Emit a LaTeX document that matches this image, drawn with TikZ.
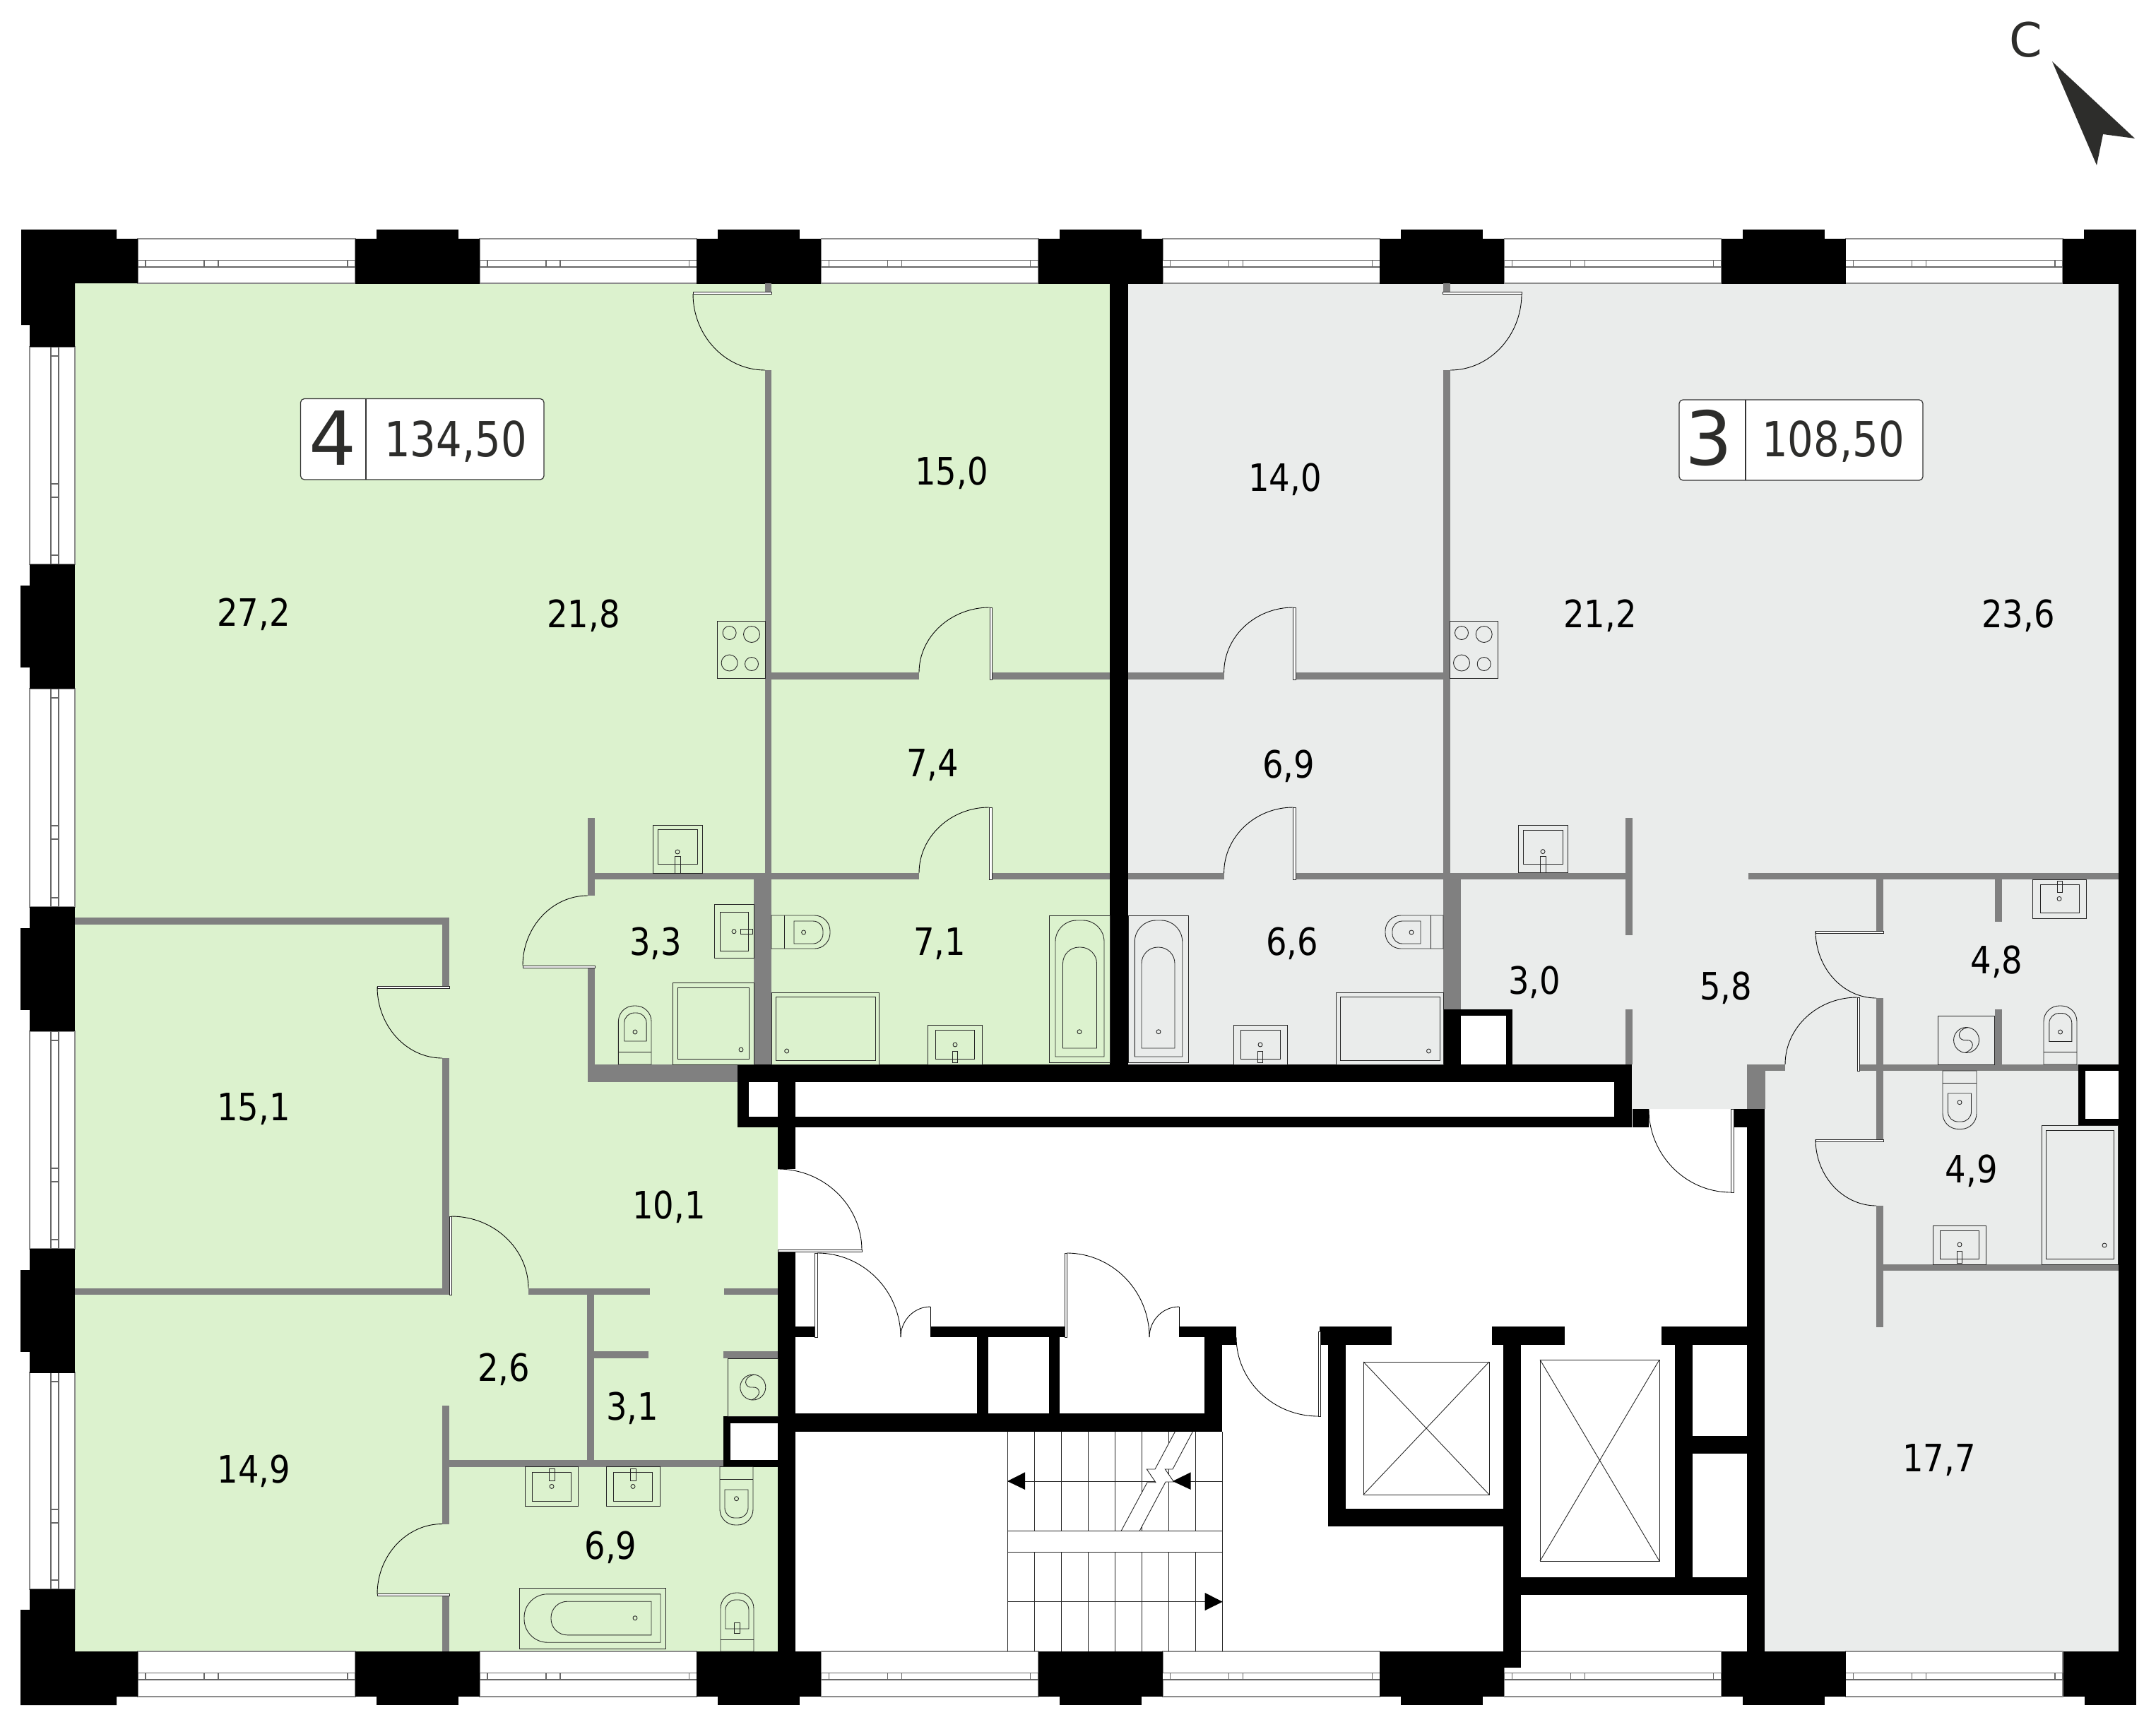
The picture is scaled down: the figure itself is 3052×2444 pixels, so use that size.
\documentclass[tikz,border=0pt]{standalone}
\usepackage{fontspec}
\setmainfont{DejaVu Sans}
\newfontfamily\planfont[FakeStretch=0.87]{DejaVu Sans}
\newfontfamily\badgefont[FakeStretch=0.84]{DejaVu Sans}
\definecolor{aptgreen}{HTML}{DCF2CE}
\definecolor{aptgray}{HTML}{EAECEB}
\definecolor{wallgray}{HTML}{808080}
\definecolor{inkdark}{HTML}{2D2D2B}
\tikzset{
  gw/.style={fill=wallgray},
  bw/.style={fill=black},
  fix/.style={draw=black!85,line width=0.5pt},
  thin line/.style={draw=black,line width=0.5pt},
  leaf/.style={draw=black!85,line width=0.5pt,fill=white},
  win/.style={draw=black!45,line width=0.8pt,fill=white},
  rail/.style={draw=black!60,line width=0.7pt,fill=white},
  lbl/.style={anchor=base,inner sep=0pt,font=\planfont\fontsize{30.4}{30.4}\selectfont,text=black},
  bignum/.style={anchor=base,inner sep=0pt,font=\fontsize{60}{60}\selectfont,text=inkdark},
  bigarea/.style={anchor=base,inner sep=0pt,font=\badgefont\fontsize{39}{39}\selectfont,text=inkdark},
}
% rectangles
\newcommand\gwr[4]{\fill[gw] (#1,#2) rectangle (#3,#4);}
\newcommand\bwr[4]{\fill[bw] (#1,#2) rectangle (#3,#4);}
\newcommand\fxr[4]{\draw[fix] (#1,#2) rectangle (#3,#4);}
\newcommand\fxd[3][3]{\draw[fix] (#2,#3) circle[radius=#1];}
% arch: centre of the base, half width, length, corner radius, rotation
\newcommand\arch[6]{\draw[fix,shift={(#1,#2)},rotate=#6] (-#3,0) -- (-#3,#4-#5) .. controls (-#3,#4-0.45*#5) and (-#3+0.45*#5,#4) .. (-#3+#5,#4) -- (#3-#5,#4) .. controls (#3-0.45*#5,#4) and (#3,#4-0.45*#5) .. (#3,#4-#5) -- (#3,0) -- cycle;}
% door swing: A has a vertical tangent, B a horizontal tangent
\newcommand\swing[4]{\draw[thin line] (#1,#2) .. controls (#1,#2*0.45+#4*0.55) and (#1*0.55+#3*0.45,#4) .. (#3,#4);}
\newcommand\leafr[4]{\draw[leaf] (#1,#2) rectangle (#3,#4);}
% horizontal and vertical window
\newcommand\hwin[4]{%
  \draw[win] (#1,#3) rectangle (#2,#4);
  \pgfmathsetmacro\ra{#3+30.5}\pgfmathsetmacro\rb{#3+40}
  \draw[rail] (#1,\ra) rectangle (#2,\rb);
  \draw[rail] (#1,\ra) rectangle (#1+11,\rb);
  \draw[rail] (#2-11,\ra) rectangle (#2,\rb);
  \draw[rail] (#1+94,\ra) rectangle (#1+114,\rb);}
\newcommand\vwin[2]{%
  \draw[win] (42,#1) rectangle (106,#2);
  \draw[rail] (72,#1) rectangle (83,#2);
  \draw[rail] (72,#1) rectangle (83,#1+13);
  \draw[rail] (72,#2-13) rectangle (83,#2);
  \draw[rail] (72,#1+194) rectangle (83,#1+213);}
\newcommand\hob[5]{% x1 x2 then circle columns
  \fxr{#1}{879.6}{#2}{960}
  \draw[fix] (#3,896) circle[radius=9.5];
  \draw[fix] (#4,898) circle[radius=11.5];
  \draw[fix] (#3,938.5) circle[radius=11.5];
  \draw[fix] (#4,940) circle[radius=9.5];}
\newcommand\washer[4]{% box, ellipse centre from box
  \fxr{#1}{#2}{#3}{#4}
  \pgfmathsetmacro\cx{(#1+#3)/2}\pgfmathsetmacro\cy{(#2+#4)/2}
  \draw[fix] (\cx,\cy) circle[radius=18];
  \draw[fix] (\cx+2,\cy-18) .. controls (\cx-16,\cy-14) and (\cx-12,\cy+2) .. (\cx,\cy) .. controls (\cx+10,\cy-1) and (\cx+14,\cy+12) .. (\cx-2,\cy+18);}
\begin{document}
\begin{tikzpicture}[x=0.02cm,y=-0.02cm]
\useasboundingbox (0,0) rectangle (3052,2444);
\fill[white] (0,0) rectangle (3052,2444);

% apartment floors
\fill[aptgreen] (106,401) -- (1571,401) -- (1571,1507) -- (1044,1507) -- (1044,1596) -- (1101,1596) -- (1101,2338) -- (106,2338) -- cycle;
\fill[aptgray] (1597,401) -- (2999,401) -- (2999,2338) -- (2498,2338) -- (2498,1516) -- (2473,1507) -- (2473,1570) -- (2310,1570) -- (2310,1507) -- (1597,1507) -- cycle;
% service shafts stay white
\fill[white] (2068,1429) rectangle (2141,1507);
\fill[white] (1024,2005) rectangle (1101,2076.5);
\fill[white] (2941.6,1507) rectangle (2999,1593);

% windows
\foreach \xa/\xb in {195/503,679/986.4,1162.4/1469.8,1645.8/1953.2,2129.2/2436.6,2612.6/2920}{
  \hwin{\xa}{\xb}{338}{401}
  \hwin{\xa}{\xb}{2338}{2402}
}
\vwin{491}{799}
\vwin{975}{1284}
\vwin{1460}{1768}
\vwin{1943}{2250}

% columns
\fill[bw] (30,325) -- (165,325) -- (165,338) -- (195,338) -- (195,401) -- (106,401) -- (106,491) -- (42,491) -- (42,460) -- (30,460) -- cycle;
\fill[bw] (106,2250) -- (42,2250) -- (42,2279) -- (29,2279) -- (29,2414) -- (165,2414) -- (165,2402) -- (195,2402) -- (195,2338) -- (106,2338) -- cycle;
\foreach \x in {503,986.4,1469.8,1953.2,2436.6}{
  \bwr{\x}{338}{\x+176}{401.5}
  \bwr{\x+30}{325}{\x+146}{338}
  \bwr{\x}{2338}{\x+176}{2402}
  \bwr{\x+30}{2402}{\x+146}{2414}
}
\foreach \y in {799,1284,1768}{
  \bwr{42}{\y}{106}{\y+175.5}
  \bwr{29}{\y+30}{42}{\y+146}
}
\bwr{2920}{338}{3024}{401.5}
\bwr{2950}{325}{3024}{338}
\bwr{2921}{2338}{3024}{2402}
\bwr{2951}{2402}{3024}{2414}

% partitions, apartment 4
\gwr{1083}{401}{1092}{414}
\gwr{1083}{524}{1092}{1236}
\gwr{1092}{952}{1301}{962}
\gwr{1404}{952}{1571}{962}
\gwr{842}{1236}{1301}{1245}
\gwr{1404}{1236}{1571}{1245}
\gwr{832}{1158}{842}{1268}
\gwr{832}{1370}{842}{1507}
\gwr{1067}{1236}{1092}{1507}
\gwr{832}{1507}{1044}{1532}
\gwr{106}{1299}{636}{1308.5}
\gwr{626}{1299}{636}{1396}
\gwr{626}{1498}{636}{1833}
\gwr{106}{1824}{626}{1833}
\gwr{748}{1824}{920}{1833}
\gwr{1025}{1824}{1101}{1833}
\gwr{831}{1833}{840.5}{2067}
\gwr{840}{1913}{918}{1923}
\gwr{1024}{1913}{1101}{1923}
\gwr{626}{2067}{1024}{2076.5}
\gwr{626}{1990}{636}{2157.5}
\gwr{626}{2259}{636}{2338}

% partitions, apartment 3
\gwr{2043}{401}{2052.7}{414}
\gwr{2043}{524}{2052.7}{1236}
\gwr{1597}{952}{1732.6}{962}
\gwr{1834}{952}{2043}{962}
\gwr{1597}{1236}{1732.6}{1245}
\gwr{1834}{1236}{2301}{1245}
\gwr{2043}{1236}{2068}{1429}
\gwr{2301}{1157.6}{2310.7}{1324}
\gwr{2301}{1429}{2310.7}{1507}
\gwr{2474.5}{1235.5}{2999}{1245}
\gwr{2656}{1245}{2666}{1318}
\gwr{2656}{1413}{2666}{1613}
\gwr{2656}{1707}{2666}{1879}
\gwr{2666}{1790}{2999}{1799}
\gwr{2824}{1245}{2834}{1305}
\gwr{2824}{1429}{2834}{1507}
\gwr{2632}{1507}{2941.6}{1516}
\gwr{2473}{1507}{2527}{1516}
\gwr{2473}{1507}{2498.6}{1570}

% black walls
\bwr{1571}{401}{1597}{1507}
\bwr{2999}{401.5}{3024}{2338}
\bwr{1044}{1507}{2310}{1532}
\bwr{1044}{1580.6}{2285}{1596}
\bwr{1044}{1532}{1060}{1596}
\bwr{2285}{1532}{2310}{1596}
\bwr{2311}{1570}{2334}{1596}
\bwr{2454}{1570}{2473}{1596}
\bwr{1101}{1532}{1126}{1655}
\bwr{1101}{1772}{1126}{2338}
\bwr{2473}{1570}{2498}{2338}
\bwr{2043}{1429}{2068}{1507}
\fill[bw] (2068,1429) rectangle (2141,1438);
\bwr{2132}{1429}{2141}{1507}
\bwr{1024}{2005}{1101}{2014.6}
\bwr{1024}{2067}{1101}{2076.5}
\bwr{1024}{2005}{1034.4}{2076.5}
\bwr{2941.6}{1507}{2999}{1516}
\bwr{2941.6}{1583.7}{2999}{1593}
\bwr{2941.6}{1507}{2951.7}{1593}
% lobby walls
\bwr{1126}{1878}{1153}{1893.4}
\bwr{1317}{1878}{1507}{1893.4}
\bwr{1669}{1878}{1750}{1893.4}
\bwr{1705}{1878}{1750}{1903.6}
\bwr{1705}{1903}{1730}{2027}
\bwr{1126}{2001}{1730}{2027}
\bwr{1383}{1893}{1399}{2001}
\bwr{1485}{1893}{1500}{2001}
\bwr{1868}{1878}{1970}{1903.6}
\bwr{1880}{1903}{1905}{2161}
\bwr{1880}{2136}{2128}{2161}
\bwr{2112}{1878}{2215}{1903.6}
\bwr{2128}{1903}{2153}{2361}
\bwr{2352}{1878}{2473}{1903.6}
\bwr{2371}{1903}{2396}{2234}
\bwr{2396}{2033}{2473}{2058}
\bwr{2153}{2233}{2473}{2258}

% lifts
\foreach \a/\b/\c/\d/\n in {1930/1928/2108/2116/liftA,2180/1925/2349/2210/liftB}{
  \draw[fix] (\a,\b) rectangle (\c,\d);
  \draw[fix] (\a,\b) -- (\c,\d) (\a,\d) -- (\c,\b);
}

% stairs
\foreach \x in {1426,1464,1502.3,1540.3,1578.3,1616.3,1654.3,1692.7,1730.7}{
  \draw[fix] (\x,2027) -- (\x,2338);
}
\draw[fix] (1426,2097) -- (1730.7,2097);
\draw[fix] (1426,2267.7) -- (1730.7,2267.7);
\fill[white] (1663.3,2027) -- (1635,2080) -- (1623.3,2080) -- (1636,2098.7) -- (1624,2098.7) -- (1587.3,2167) -- (1613.3,2167) -- (1650,2098) -- (1661.7,2098) -- (1649.3,2080) -- (1660,2080) -- (1688.3,2027) -- cycle;
\draw[fix] (1663.3,2027) -- (1635,2080) -- (1623.3,2080) -- (1636,2098.7) -- (1624,2098.7) -- (1587.3,2167);
\draw[fix] (1688.3,2027) -- (1660,2080) -- (1649.3,2080) -- (1661.7,2098) -- (1650,2098) -- (1613.3,2167);
\draw[fix,fill=white] (1426,2167.3) rectangle (1730.7,2197.3);
\fill[bw] (1426,2097) -- (1451,2084.3) -- (1451,2109) -- cycle;
\fill[bw] (1660,2097) -- (1685.7,2084.3) -- (1685.7,2109) -- cycle;
\fill[bw] (1730.7,2267.7) -- (1705.7,2255) -- (1705.7,2280) -- cycle;

% hobs
\hob{1015.6}{1083}{1032.6}{1064}{}
\hob{2052.7}{2120}{2069}{2100.7}{}

% sinks in the halls
\fxr{924}{1168}{994}{1236}\fxr{931}{1174}{987}{1223}\fxr{955}{1212}{963}{1236}\fxd{959}{1206}
\fxr{2149.7}{1168}{2219.5}{1235.5}\fxr{2156}{1175}{2212.7}{1223.5}\fxr{2180.5}{1212}{2188}{1235.5}\fxd{2184}{1205.6}
% bathroom 3,3
\fxr{1011.6}{1280}{1067}{1356}\fxr{1019}{1291}{1059.6}{1346}\fxr{1048}{1315}{1065}{1322}\fxd{1039}{1318.7}
\fxr{952}{1391}{1067}{1507}\fxr{959}{1398}{1060.6}{1499}\fxd{1049}{1486}
\arch{898.7}{1507}{23.3}{83}{22}{180}
\draw[fix] (875.4,1489) -- (922,1489);
\arch{899.4}{1474}{15.7}{40}{14}{180}
\fxd{899}{1461}
% bathroom 7,1
\arch{1092}{1319.5}{23.5}{83}{22}{90}
\draw[fix] (1110,1296) -- (1110,1343);
\arch{1124}{1320}{16}{41}{14}{90}
\fxd{1137.6}{1320}
\fxr{1092}{1405}{1244}{1507}\fxr{1098}{1411}{1239}{1501}\fxd{1113.7}{1488}
\fxr{1313.7}{1451}{1390}{1507}\fxr{1324}{1458}{1379}{1499}\fxr{1348}{1488}{1355}{1504}\fxd{1352}{1479}
\fxr{1485.6}{1296}{1571}{1504}
\arch{1528.5}{1496}{34.5}{193}{30}{180}
\arch{1528.5}{1484}{24}{143}{23}{180}
\fxd{1528}{1460.7}
% bathroom 6,6
\fxr{1597}{1296}{1682.6}{1504}
\arch{1640}{1496}{33.7}{193}{30}{180}
\arch{1639.5}{1484}{23.5}{143}{23}{180}
\fxd{1640}{1460.7}
\fxr{1746.4}{1451}{1822.4}{1507}\fxr{1756.6}{1458}{1812}{1499}\fxr{1780.6}{1488}{1787.8}{1504}\fxd{1784}{1479}
\fxr{1891}{1405}{2043}{1507}\fxr{1897}{1411}{2038}{1501}\fxd{2022.5}{1488}
\arch{2043}{1319.5}{23.5}{82}{22}{-90}
\draw[fix] (2025.5,1296) -- (2025.5,1343);
\arch{2011}{1320}{16}{40}{14}{-90}
\fxd{1998}{1320}
% bathroom 4,8
\fxr{2877}{1245}{2953}{1300}\fxr{2888}{1252}{2943}{1292}\fxr{2912}{1247}{2919}{1263}\fxd{2915}{1272.4}
\washer{2743.6}{1438}{2823.5}{1507}
\arch{2916.5}{1507}{23.5}{83}{22}{180}
\draw[fix] (2893,1489) -- (2940,1489);
\arch{2916.8}{1474.5}{16}{40}{14}{180}
\fxd{2916.5}{1461}
% bathroom 4,9
\arch{2774}{1516}{24}{82.5}{22}{0}
\draw[fix] (2750,1533.7) -- (2798,1533.7);
\arch{2774}{1548}{16.5}{40}{14}{0}
\fxd{2774}{1560.7}
\fxr{2890.6}{1593}{2998.7}{1790}\fxr{2896.6}{1600.5}{2992}{1782.7}\fxd{2979}{1763}
\fxr{2736}{1735}{2811}{1790}\fxr{2746}{1742}{2801}{1782}\fxr{2770.5}{1771}{2777}{1788}\fxd{2774}{1762}
% bathroom 6,9 and laundry 3,1
\washer{1030.6}{1923}{1101}{2005}
\fxr{743.7}{2076.5}{818.7}{2132}\fxr{753.6}{2084}{808.7}{2125}\fxr{777}{2079}{785}{2096}\fxd{781}{2104.4}
\fxr{858.5}{2076.5}{934}{2132}\fxr{868.5}{2084}{923.5}{2125}\fxr{892}{2079}{900}{2096}\fxd{896}{2104.4}
\arch{1042.5}{2076.5}{23.5}{82.5}{22}{0}
\draw[fix] (1019,2094) -- (1066,2094);
\arch{1042.5}{2109}{16.5}{40}{14}{0}
\fxd{1042.5}{2121.7}
\fxr{735}{2248}{942.6}{2334}
\arch{935}{2291}{34.2}{193}{33}{-90}
\arch{922}{2291}{23.8}{142}{23}{-90}
\fxd{899}{2290.7}
\arch{1043.5}{2338}{23.5}{83}{22}{180}
\draw[fix] (1020,2321) -- (1067,2321);
\arch{1043.5}{2306}{16.5}{41}{14}{180}
\fxr{1039}{2297}{1047}{2312}

% doors
\leafr{981}{413.6}{1092}{416.8}\swing{981}{416}{1083}{524}
\leafr{1401}{860}{1404}{962}\swing{1301}{952}{1401}{860}
\leafr{1400}{1143}{1404}{1245}\swing{1301}{1236}{1400}{1143}
\leafr{2042}{413.6}{2154}{416.8}\swing{2154}{416}{2053}{524}
\leafr{1830.6}{860}{1834}{962}\swing{1732.6}{952}{1830.6}{860}
\leafr{1830.6}{1143}{1834}{1245}\swing{1732.6}{1236}{1830.6}{1143}
\leafr{740}{1367}{842}{1370}\swing{740}{1367}{832}{1268}
\leafr{534}{1396.5}{636}{1399}\swing{534}{1397}{626}{1498}
\leafr{636}{1722}{639}{1833}\swing{748}{1824}{639}{1722}
\leafr{534}{2256.6}{636}{2259}\swing{534}{2257}{626}{2157.5}
\leafr{2570}{1318}{2666}{1321}\swing{2570}{1318}{2656}{1413}
\leafr{2570}{1613}{2666}{1616}\swing{2570}{1613}{2656}{1707}
\leafr{2629}{1412}{2632}{1516}\swing{2527}{1507}{2629}{1412}
\leafr{2450}{1570}{2454}{1688}\swing{2334}{1570}{2450}{1688}
\leafr{1101}{1769}{1220}{1772}\swing{1220}{1770}{1101}{1655}
\leafr{1153}{1774}{1157}{1893}\swing{1275}{1893}{1157}{1774}\swing{1275}{1893}{1317}{1850}
\draw[thin line] (1317,1850) -- (1317,1878);
\leafr{1507}{1774}{1510}{1893}\swing{1627}{1893}{1510}{1774}\swing{1627}{1893}{1669}{1850}
\draw[thin line] (1669,1850) -- (1669,1878);
\leafr{1866}{1885.5}{1869}{2005}\swing{1750}{1893}{1866}{2005}

% area badges
\draw[black!80,line width=0.7pt,fill=white,rounded corners=3pt] (425.5,564.5) rectangle (770,679);
\draw[black!80,line width=0.7pt] (518,564.5) -- (518,679);
\node[bignum] (aptfour) at (471,658.5) {4};
\node[bigarea] (areafour) at (645,646) {134,50};
\draw[black!80,line width=0.7pt,fill=white,rounded corners=3pt] (2377,566) rectangle (2722,680);
\draw[black!80,line width=0.7pt] (2471,566) -- (2471,680);
\node[bignum] (aptthree) at (2419,658.5) {3};
\node[bigarea] (areathree) at (2595,646) {108,50};

% room areas
\node[lbl] (r01) at (359,867+19.5) {27,2};
\node[lbl] (r02) at (826,869+19.5) {21,8};
\node[lbl] (r03) at (1347,666.5+19.5) {15,0};
\node[lbl] (r04) at (1819,676+19.5) {14,0};
\node[lbl] (r05) at (2265,869+19.5) {21,2};
\node[lbl] (r06) at (2857,869+19.5) {23,6};
\node[lbl] (r07) at (1320,1080+19.5) {7,4};
\node[lbl] (r08) at (1824,1082+19.5) {6,9};
\node[lbl] (r09) at (928,1333+19.5) {3,3};
\node[lbl] (r10) at (1330,1333+19.5) {7,1};
\node[lbl] (r11) at (1829,1333+19.5) {6,6};
\node[lbl] (r12) at (2172,1388+19.5) {3,0};
\node[lbl] (r13) at (2443,1396+19.5) {5,8};
\node[lbl] (r14) at (2826.5,1358.7+19.5) {4,8};
\node[lbl] (r15) at (2790.6,1655+19.5) {4,9};
\node[lbl] (r16) at (359,1567+19.5) {15,1};
\node[lbl] (r17) at (947,1705.6+19.5) {10,1};
\node[lbl] (r18) at (713,1936+19.5) {2,6};
\node[lbl] (r19) at (895,1991+19.5) {3,1};
\node[lbl] (r20) at (359.6,2079.6+19.5) {14,9};
\node[lbl] (r21) at (864.6,2188+19.5) {6,9};
\node[lbl] (r22) at (2745,2064+19.5) {17,7};

% north mark
\node[anchor=base,inner sep=0pt,text=inkdark,font=\fontsize{38}{38}\selectfont] (north) at (2868,80) {С};
\fill[inkdark] (2905,87) -- (3022,196) -- (2977,190) -- (2968,234) -- cycle;
\end{tikzpicture}
\end{document}
